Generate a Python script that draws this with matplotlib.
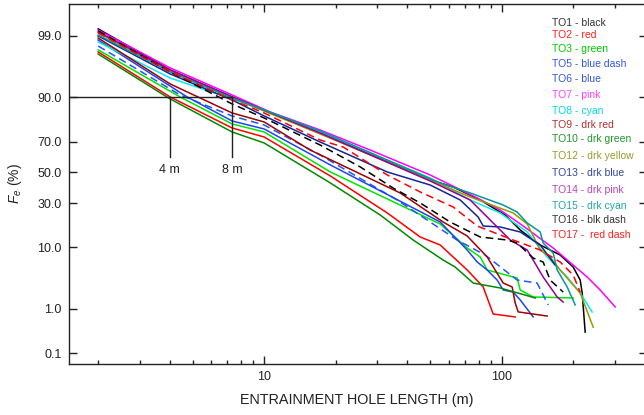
import numpy as np
import matplotlib
matplotlib.use("Agg")
import matplotlib.pyplot as plt
from matplotlib.ticker import NullLocator, NullFormatter, FixedLocator, FixedFormatter
from statistics import NormalDist

plt.rcParams['font.family'] = ['Liberation Sans', 'DejaVu Sans']
plt.rcParams['mathtext.fontset'] = 'custom'
plt.rcParams['mathtext.rm'] = 'Liberation Sans'
plt.rcParams['mathtext.it'] = 'Liberation Sans:italic'

# ---------------- data (hole length in m, Fe in %) ----------------
to1_len = [2.0, 4.02, 7.33, 10.0, 17.2, 50.0, 62.5, 81.2, 103.4, 119.7, 145.3, 176.3, 200.0, 214.1, 218.3, 224.7]
to1_fe = [99.28, 95.96, 90.06, 85.61, 74.88, 44.78, 40.10, 31.82, 23.31, 16.24, 10.74, 7.91, 5.30, 3.30, 1.97, 0.32]

to2_len = [2.0, 4.02, 7.33, 10.0, 19.0, 33.0, 45.4, 55.1, 71.6, 83.6, 92.1, 114.0]
to2_fe = [98.00, 90.06, 77.52, 72.65, 47.48, 24.37, 13.48, 10.74, 4.78, 2.52, 0.78, 0.68]

to3_len = [2.0, 4.43, 7.33, 10.0, 19.0, 55.1, 71.6, 81.2, 86.9, 116.2, 119.7, 135.7, 200.0]
to3_fe = [98.16, 90.06, 79.51, 75.42, 50.20, 18.88, 9.82, 7.42, 4.78, 3.56, 2.23, 1.67, 1.60]

to5_len = [2.0, 4.43, 7.33, 10.0, 17.2, 36.3, 64.9, 85.2, 116.2, 141.1, 157.0]
to5_fe = [98.44, 90.64, 83.17, 79.02, 61.61, 31.82, 12.40, 7.91, 3.30, 2.94, 1.18]

to6_len = [2.0, 4.74, 7.33, 10.0, 19.0, 55.1, 71.6, 78.9, 86.9, 95.7, 101.5, 111.8, 119.7, 135.7]
to6_fe = [98.80, 90.06, 80.93, 77.00, 54.97, 19.82, 9.24, 6.29, 4.78, 3.30, 2.23, 2.05, 1.47, 0.68]

to7_len = [2.0, 4.02, 7.33, 10.6, 17.2, 27.9, 50.0, 78.9, 98.6, 123.2, 164.8, 229.1, 259.8, 300.6]
to7_fe = [99.24, 96.25, 90.64, 84.83, 76.48, 64.83, 48.17, 33.05, 26.00, 17.97, 9.82, 3.70, 2.23, 1.08]

to8_len = [2.0, 4.02, 7.33, 10.0, 17.2, 50.0, 73.7, 98.6, 128.1, 155.4, 188.7, 214.1, 240.5]
to8_fe = [98.69, 94.62, 89.45, 85.61, 75.42, 46.12, 31.82, 24.37, 15.42, 7.42, 3.70, 1.97, 0.86]

to9_len = [2.0, 4.02, 7.33, 10.0, 15.6, 37.4, 56.7, 71.6, 86.9, 101.5, 110.7, 114.0, 117.4, 155.4]
to9_fe = [98.90, 93.41, 84.42, 80.47, 64.83, 36.20, 19.82, 13.85, 7.42, 2.94, 2.52, 1.29, 0.86, 0.71]

to10_len = [2.0, 4.02, 7.33, 10.0, 19.0, 30.8, 42.4, 56.7, 63.7, 75.9, 98.6, 138.4]
to10_fe = [97.82, 89.45, 75.42, 69.15, 42.76, 23.31, 12.40, 6.72, 5.30, 2.94, 2.42, 1.60]

to12_len = [2.0, 4.02, 7.33, 17.2, 50.0, 73.7, 111.8, 128.1, 145.3, 160.0, 176.3, 214.1, 242.9]
to12_fe = [99.13, 95.81, 89.76, 74.33, 44.78, 33.67, 24.37, 18.88, 9.24, 7.42, 4.78, 1.97, 0.41]

to13_len = [2.0, 4.02, 7.33, 10.0, 17.2, 33.0, 50.0, 66.9, 79.6, 83.6, 98.6, 119.7, 145.3, 168.0]
to13_fe = [99.00, 95.33, 89.14, 83.17, 69.75, 50.20, 41.41, 31.82, 22.28, 17.97, 17.53, 15.42, 10.74, 5.68]

to14_len = [2.0, 4.02, 7.33, 17.2, 50.0, 73.7, 108.6, 128.1, 135.7, 149.5, 171.3, 181.6]
to14_fe = [99.17, 95.96, 90.06, 74.88, 44.10, 31.82, 12.40, 9.24, 6.72, 3.70, 1.67, 1.34]

to15_len = [2.0, 4.02, 7.33, 17.2, 55.1, 73.7, 101.5, 116.2, 128.1, 145.3, 149.5, 164.8, 171.3, 188.7, 204.0]
to15_fe = [99.04, 95.65, 89.76, 75.95, 42.76, 36.20, 28.84, 24.90, 19.35, 15.42, 11.38, 8.42, 4.78, 2.52, 1.18]

to16_len = [2.0, 4.02, 7.33, 10.0, 17.2, 25.4, 34.9, 45.4, 60.7, 81.2, 105.5, 116.2, 135.7, 149.5, 160.0, 181.6]
to16_fe = [99.21, 95.65, 87.81, 82.29, 67.93, 53.60, 39.44, 30.02, 19.82, 13.48, 12.40, 11.38, 7.18, 6.29, 3.30, 2.05]

to17_len = [2.0, 4.02, 7.33, 10.0, 17.2, 21.5, 33.0, 45.4, 62.5, 78.9, 111.8, 145.3, 176.3, 200.0, 214.1]
to17_fe = [99.13, 95.65, 89.14, 84.42, 70.92, 66.70, 48.17, 36.84, 27.68, 17.97, 12.40, 9.24, 6.29, 3.98, 2.05]

legend_labels = ['TO1 - black', 'TO2 - red', 'TO3 - green', 'TO5 - blue dash', 'TO6 - blue',
                 'TO7 - pink', 'TO8 - cyan', 'TO9 - drk red', 'TO10 - drk green',
                 'TO12 - drk yellow', 'TO13 - drk blue', 'TO14 - drk pink', 'TO15 - drk cyan',
                 'TO16 - blk dash', 'TO17 -  red dash']

y_ticks = [0.1, 1.0, 10.0, 30.0, 50.0, 70.0, 90.0, 99.0]
y_tick_labels = ['0.1', '1.0', '10.0', '30.0', '50.0', '70.0', '90.0', '99.0']
x_ticks = [10, 100]
x_tick_labels = ['10', '100']

ref_level = 90.0
ref_lengths = [4.0, 7.33]
ref_labels = ['4 m', '8 m']
ref_bottom = 60.3
ref_label_y = 51.6

# ---------------- styling ----------------
series = [
    (to1_len, to1_fe, '#000000', '-', '#333333'),
    (to2_len, to2_fe, '#FF0000', '-', '#FF2020'),
    (to3_len, to3_fe, '#00E600', '-', '#00CC00'),
    (to5_len, to5_fe, '#2255FF', '--', '#3355EE'),
    (to6_len, to6_fe, '#1E46F0', '-', '#3355DD'),
    (to7_len, to7_fe, '#FF00FF', '-', '#FF40FF'),
    (to8_len, to8_fe, '#00EEEE', '-', '#00D8E8'),
    (to9_len, to9_fe, '#A00000', '-', '#B03030'),
    (to10_len, to10_fe, '#008A00', '-', '#20962A'),
    (to12_len, to12_fe, '#999900', '-', '#9A9A30'),
    (to13_len, to13_fe, '#14249A', '-', '#3344A0'),
    (to14_len, to14_fe, '#990099', '-', '#BB44BB'),
    (to15_len, to15_fe, '#009999', '-', '#20A8A8'),
    (to16_len, to16_fe, '#000000', '--', '#333333'),
    (to17_len, to17_fe, '#FF0000', '--', '#FF2020'),
]
legend_y_px = [22.7, 35, 49.3, 64.3, 79, 95, 111, 125, 139, 156, 173, 190, 205.7, 220.3, 235]

_nd = NormalDist()
_inv = np.vectorize(lambda p: _nd.inv_cdf(p) if np.isfinite(p) else np.nan, otypes=[float])
_cdf = np.vectorize(lambda z: _nd.cdf(z) if not np.isnan(z) else np.nan, otypes=[float])


def fwd(p):
    p = np.asarray(p, dtype=float)
    q = np.clip(p / 100.0, 1e-12, 1 - 1e-12)
    return _inv(q)


def inv(z):
    z = np.asarray(z, dtype=float)
    return _cdf(z) * 100.0


W, H = 644, 415
fig = plt.figure(figsize=(W / 100, H / 100), dpi=100)
ax = fig.add_axes([68.5 / W, 1 - 364 / H, (647.2 - 68.5) / W, (364 - 4.5) / H])
ax.set_xscale('log')
ax.set_yscale('function', functions=(fwd, inv))

for xs, ys, col, ls, _ in series:
    if ls == '--':
        ax.plot(xs, ys, color=col, lw=1.1, ls=(0, (5, 3)))
    else:
        ax.plot(xs, ys, color=col, lw=1.1, ls='-')

xmin, xmax = 1.5, 410
ax.set_xlim(xmin, xmax)
ax.set_ylim(0.0536, 99.79)

# reference lines
ax.plot([xmin, ref_lengths[1]], [ref_level, ref_level], color='#222222', lw=1.0)
for xr, lab in zip(ref_lengths, ref_labels):
    ax.plot([xr, xr], [ref_level, ref_bottom], color='#222222', lw=1.0)
    ax.text(xr, ref_label_y, lab, ha='center', va='center', fontsize=9, color='#222222')

ax.yaxis.set_major_locator(FixedLocator(y_ticks))
ax.yaxis.set_major_formatter(FixedFormatter(y_tick_labels))
ax.yaxis.set_minor_locator(NullLocator())
ax.xaxis.set_major_locator(FixedLocator(x_ticks))
ax.xaxis.set_major_formatter(FixedFormatter(x_tick_labels))
ax.xaxis.set_minor_formatter(NullFormatter())

ax.tick_params(which='both', direction='in', top=True, right=True, colors='#222222',
               labelsize=9, width=1.0)
ax.tick_params(which='major', length=5.5, pad=5)
ax.tick_params(which='minor', length=3)
for s in ax.spines.values():
    s.set_linewidth(1.0)
    s.set_color('#222222')

fig.text(357 / W, 1 - 400 / H, 'ENTRAINMENT HOLE LENGTH (m)', ha='center', va='center',
         fontsize=10.4, color='#222222')
fig.text(15 / W, 1 - 184 / H, r'$F_e$ (%)', ha='center', va='center', rotation=90,
         fontsize=10, color='#222222')

for lab, (_, _, _, _, tcol), ypx in zip(legend_labels, series, legend_y_px):
    fig.text(552 / W, 1 - ypx / H, lab, ha='left', va='center', fontsize=7.5, color=tcol)

fig.savefig('out.png', dpi=100)
